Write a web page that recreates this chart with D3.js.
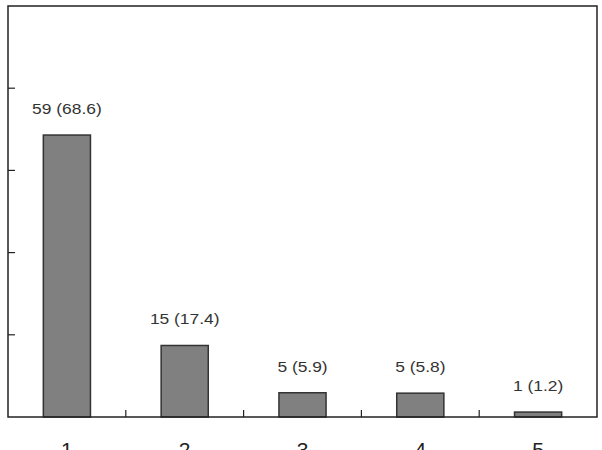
<!DOCTYPE html>
<html>
<head>
<meta charset="utf-8">
<script src="https://cdn.jsdelivr.net/npm/d3@7"></script>
<style>
  body { margin: 0; background: #fff; }
</style>
</head>
<body>
<div id="viz"></div>
<script>
const categories = ['1', '2', '3', '4', '5'];
const counts = [59, 15, 5, 5, 1];
const percents = [68.6, 17.4, 5.9, 5.8, 1.2];
const yTicks = [20, 40, 60, 80];

const margin = {top: 6, right: 5, bottom: 33, left: 8};
const width = 602 - margin.left - margin.right;
const height = 450 - margin.top - margin.bottom;

const data = categories.map((c, i) => ({cat: c, n: counts[i], pct: percents[i]}));

const svg = d3.select('#viz')
  .append('svg')
  .attr('width', 602)
  .attr('height', 450)
  .append('g')
  .attr('transform', `translate(${margin.left},${margin.top})`);

const x = d3.scaleBand()
  .domain(categories)
  .range([0, width])
  .paddingInner(0)
  .paddingOuter(0);

const y = d3.scaleLinear()
  .domain([0, 100])
  .range([height, 0]);

const barW = x.bandwidth() * 0.4;

// bars
svg.selectAll('.bar')
  .data(data)
  .join('rect')
  .attr('class', 'bar')
  .attr('x', d => x(d.cat) + (x.bandwidth() - barW) / 2)
  .attr('y', d => y(d.pct))
  .attr('width', barW)
  .attr('height', d => height - y(d.pct))
  .style('fill', '#808080')
  .style('stroke', '#333')
  .style('stroke-width', 1.5);

// value labels (the source font is a bit wide, so stretch horizontally)
svg.selectAll('.lbl')
  .data(data)
  .join('text')
  .attr('class', 'lbl')
  .attr('transform', d => `translate(${x(d.cat) + x.bandwidth() / 2},${y(d.pct) - 21}) scale(1.16,1)`)
  .attr('text-anchor', 'middle')
  .style('font-family', 'Liberation Sans, Arial, sans-serif')
  .style('font-size', '15px')
  .style('fill', '#333')
  .text(d => `${d.n} (${d.pct})`);

// y ticks (inward)
svg.selectAll('.ytick')
  .data(yTicks)
  .join('line')
  .attr('x1', 0).attr('x2', 7)
  .attr('y1', d => y(d)).attr('y2', d => y(d))
  .style('stroke', '#222').style('stroke-width', 1.2);

// x ticks at band boundaries (inward)
svg.selectAll('.xtick')
  .data(categories.slice(1))
  .join('line')
  .attr('x1', d => x(d)).attr('x2', d => x(d))
  .attr('y1', height).attr('y2', height - 7)
  .style('stroke', '#222').style('stroke-width', 1.2);

// x labels
svg.selectAll('.xlbl')
  .data(categories)
  .join('text')
  .attr('x', d => x(d) + x.bandwidth() / 2)
  .attr('y', height + 40)
  .attr('text-anchor', 'middle')
  .style('font-family', 'Liberation Sans, Arial, sans-serif')
  .style('font-size', '21px')
  .style('fill', '#222')
  .text(d => d);

// frame
svg.append('rect')
  .attr('x', 0).attr('y', 0)
  .attr('width', width).attr('height', height)
  .style('fill', 'none')
  .style('stroke', '#222')
  .style('stroke-width', 1.5);
</script>
</body>
</html>
